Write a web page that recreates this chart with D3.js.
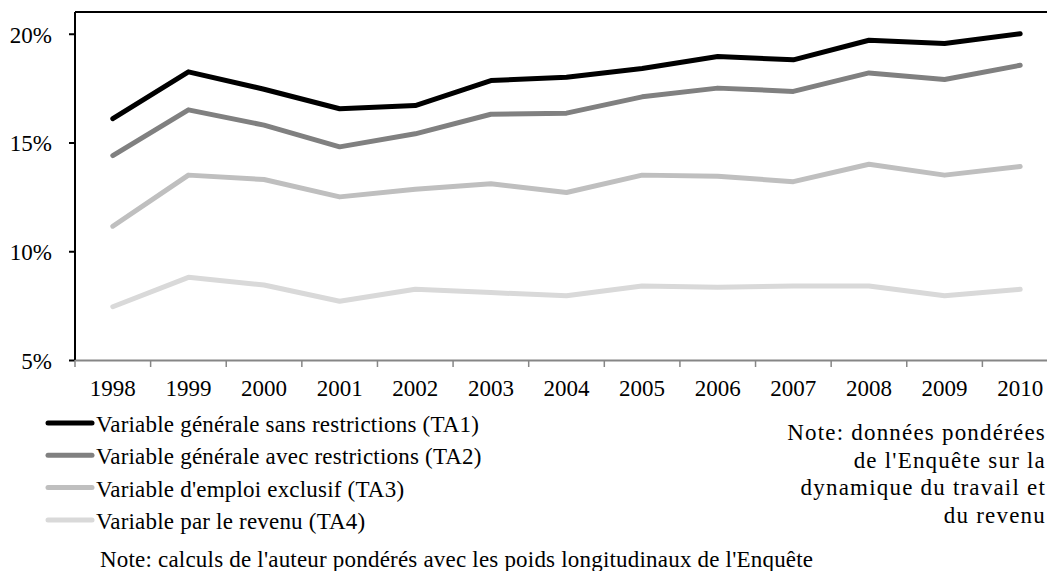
<!DOCTYPE html>
<html>
<head>
<meta charset="utf-8">
<script src="https://cdn.jsdelivr.net/npm/d3@7"></script>
<style>
  body { margin: 0; background: #fff; }
</style>
</head>
<body>
<svg id="chart" width="1047" height="571"></svg>
<script>
const years = ["1998","1999","2000","2001","2002","2003","2004","2005","2006","2007","2008","2009","2010"];
const ta1 = [16.1, 18.25, 17.45, 16.55, 16.7, 17.85, 18.0, 18.4, 18.95, 18.8, 19.7, 19.55, 20.0];
const ta2 = [14.4, 16.5, 15.8, 14.8, 15.4, 16.3, 16.35, 17.1, 17.5, 17.35, 18.2, 17.9, 18.55];
const ta3 = [11.15, 13.5, 13.3, 12.5, 12.85, 13.1, 12.7, 13.5, 13.45, 13.2, 14.0, 13.5, 13.9];
const ta4 = [7.45, 8.8, 8.45, 7.7, 8.25, 8.1, 7.95, 8.4, 8.35, 8.4, 8.4, 7.95, 8.25];
const seriesNames = [
  "Variable générale sans restrictions (TA1)",
  "Variable générale avec restrictions (TA2)",
  "Variable d'emploi exclusif (TA3)",
  "Variable par le revenu (TA4)"
];
const seriesColors = ["#000000", "#808080", "#bfbfbf", "#d9d9d9"];
const yTicks = [5, 10, 15, 20];
const noteRight = ["Note: données pondérées", "de l'Enquête sur la", "dynamique du travail et", "du revenu"];
const noteBottom = "Note: calculs de l'auteur pondérés avec les poids longitudinaux de l'Enquête";

const serif = "'Liberation Serif', serif";
const svg = d3.select("#chart");
const plotLeft = 75, plotTop = 12, plotBottom = 360, plotRight = 1058;

const x = d3.scaleBand().domain(years).range([plotLeft, plotRight]).padding(0);
const y = d3.scaleLinear().domain([5, 21]).range([plotBottom, plotTop]);

// frame: top border
svg.append("line")
  .attr("x1", plotLeft).attr("x2", 1047).attr("y1", plotTop).attr("y2", plotTop)
  .attr("stroke", "#000").attr("stroke-width", 2);

// y axis
const yAxis = svg.append("g").attr("transform", `translate(${plotLeft},0)`)
  .call(d3.axisLeft(y).tickValues(yTicks).tickSize(6).tickFormat(d => d + "%"));
yAxis.select(".domain").attr("stroke", "#000").attr("stroke-width", 2)
  .attr("d", `M0,${plotTop}V${plotBottom}`);
yAxis.selectAll(".tick line").attr("stroke", "#000").attr("stroke-width", 2);
yAxis.selectAll(".tick text").attr("x", -23).attr("dy", "0.36em")
  .style("font-size", "23px").style("font-family", serif).attr("fill", "#000");

// x axis
const xAxis = svg.append("g").attr("transform", `translate(0,${plotBottom})`)
  .call(d3.axisBottom(x).tickSize(0).tickPadding(20));
xAxis.select(".domain").attr("stroke", "#868686").attr("stroke-width", 2);
xAxis.selectAll(".tick text").attr("dy", "0.71em")
  .style("font-size", "23px").style("font-family", serif).attr("fill", "#000");
xAxis.selectAll(".boundary").data(years.concat(["end"])).join("line")
  .attr("class", "boundary")
  .attr("x1", (d, i) => plotLeft + i * x.step()).attr("x2", (d, i) => plotLeft + i * x.step())
  .attr("y1", 0).attr("y2", 7)
  .attr("stroke", "#868686").attr("stroke-width", 1.5);

// lines
const allSeries = [ta1, ta2, ta3, ta4];
const line = d3.line()
  .x((d, i) => x(years[i]) + x.bandwidth() / 2)
  .y(d => y(d));
// draw lightest first so black is on top
allSeries.map((s, i) => ({ s, i })).reverse().forEach(({ s, i }) => {
  svg.append("path")
    .datum(s)
    .attr("d", line)
    .attr("fill", "none")
    .attr("stroke", seriesColors[i])
    .attr("stroke-width", 5)
    .attr("stroke-linejoin", "round")
    .attr("stroke-linecap", "round");
});

// legend
const legend = svg.append("g");
seriesNames.forEach((name, i) => {
  const ly = 423 + i * 32.3;
  legend.append("line")
    .attr("x1", 48).attr("x2", 92).attr("y1", ly).attr("y2", ly)
    .attr("stroke", seriesColors[i]).attr("stroke-width", 5)
    .attr("stroke-linecap", "round");
  legend.append("text")
    .attr("x", 96).attr("y", ly + 9)
    .style("font-size", "23px").style("font-family", serif)
    .style("letter-spacing", "0.2px")
    .text(name);
});

// right note
noteRight.forEach((t, i) => {
  svg.append("text")
    .attr("x", 1046).attr("y", 440 + i * 27.5)
    .attr("text-anchor", "end")
    .style("font-size", "23px").style("font-family", serif)
    .style("letter-spacing", "1.2px")
    .text(t);
});

// bottom note
svg.append("text")
  .attr("x", 100).attr("y", 567)
  .style("font-size", "23px").style("font-family", serif)
  .style("letter-spacing", "0.2px")
  .text(noteBottom);
</script>
</body>
</html>
